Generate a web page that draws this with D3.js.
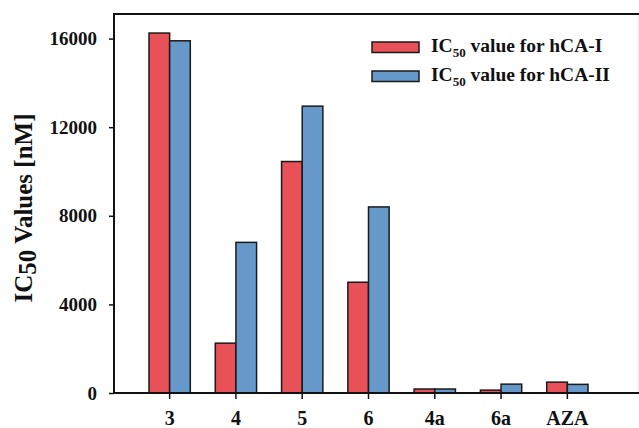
<!DOCTYPE html>
<html>
<head>
<meta charset="utf-8">
<script src="https://cdn.jsdelivr.net/npm/d3@7"></script>
<style>
    body { margin: 0; background: #fff; }
    text { font-family: "Liberation Serif", "Times New Roman", serif; font-weight: bold; fill: #111; }
</style>
</head>
<body>
<svg id="chart" width="639" height="428"></svg>
<script>
// compounds on the x axis
const categories = ["3", "4", "5", "6", "4a", "6a", "AZA"];
// IC50 (nM) for hCA-I and hCA-II
const hcaI = [16250, 2250, 10450, 5000, 180, 130, 490];
const hcaII = [15900, 6800, 12950, 8400, 180, 400, 390];
const yTicks = [0, 4000, 8000, 12000, 16000];
const seriesNames = ["hCA-I", "hCA-II"];
const colors = ["#e85157", "#6699c9"];

const svg = d3.select("#chart");
const margin = { left: 114, top: 14, right: 1, bottom: 35 };
const width = 639, height = 428;

const x = d3.scaleBand()
    .domain(categories)
    .range([149, 588])
    .paddingInner(0.377)
    .paddingOuter(0);

const y = d3.scaleLinear()
    .domain([0, 17110])
    .range([height - margin.bottom, margin.top]);

const xSub = d3.scaleBand()
    .domain([0, 1])
    .range([0, x.bandwidth()]);

// frame: faint right edge, then top
svg.append("line")
    .attr("x1", 638).attr("x2", 638)
    .attr("y1", margin.top).attr("y2", height - margin.bottom)
    .attr("stroke", "#e6e6e6").attr("stroke-width", 1);

svg.append("line")
    .attr("x1", margin.left).attr("x2", width)
    .attr("y1", margin.top).attr("y2", margin.top)
    .attr("stroke", "#111").attr("stroke-width", 2);

// bars
const series = [hcaI, hcaII];
series.forEach((vals, s) => {
    svg.append("g").selectAll("rect")
        .data(vals)
        .join("rect")
        .attr("x", (d, i) => x(categories[i]) + xSub(s))
        .attr("y", d => y(d))
        .attr("width", xSub.bandwidth())
        .attr("height", d => y(0) - y(d))
        .attr("fill", colors[s])
        .attr("stroke", "#1a1a1a")
        .attr("stroke-width", 1.5);
});

// y axis
const yAxis = svg.append("g")
    .attr("transform", `translate(${margin.left},0)`)
    .call(d3.axisLeft(y).tickValues(yTicks).tickFormat(d3.format("d"))
        .tickSize(5).tickSizeOuter(0).tickPadding(12));
yAxis.select(".domain").attr("stroke", "#111").attr("stroke-width", 2)
    .attr("d", `M0,${margin.top - 1}V${height - margin.bottom}`);
yAxis.selectAll(".tick line").attr("stroke", "#111").attr("stroke-width", 1.5);
yAxis.selectAll(".tick text").style("font-size", "19px")
    .style("font-family", "'Liberation Serif', serif").attr("fill", "#111");

// x axis
const xAxis = svg.append("g")
    .attr("transform", `translate(0,${height - margin.bottom})`)
    .call(d3.axisBottom(x).tickSize(6).tickSizeOuter(0).tickPadding(12));
xAxis.select(".domain").attr("stroke", "#111").attr("stroke-width", 2)
    .attr("d", `M${margin.left - 1},0H${width}`);
xAxis.selectAll(".tick line").attr("stroke", "#111").attr("stroke-width", 1.5);
xAxis.selectAll(".tick text").style("font-size", "20px")
    .style("font-family", "'Liberation Serif', serif").attr("fill", "#111");

// y axis title
const yTitle = svg.append("text")
    .attr("transform", `translate(32,208) rotate(-90)`)
    .attr("text-anchor", "middle")
    .style("font-size", "25px");
yTitle.append("tspan").text("IC");
yTitle.append("tspan").attr("dy", 4).text("50");
yTitle.append("tspan").attr("dy", -4).text(" Values [nM]");

// legend
const legend = svg.append("g").attr("transform", "translate(372,42)");
seriesNames.forEach((name, i) => {
    const row = legend.append("g").attr("transform", `translate(0,${i * 29})`);
    row.append("rect")
        .attr("width", 47).attr("height", 10.5)
        .attr("fill", colors[i])
        .attr("stroke", "#1a1a1a").attr("stroke-width", 1.5);
    const t = row.append("text")
        .attr("x", 59).attr("y", 10)
        .style("font-size", "19.5px");
    t.append("tspan").text("IC");
    t.append("tspan").attr("dy", 5).style("font-size", "13px").text("50");
    t.append("tspan").attr("dy", -5).text(` value for ${name}`);
});
</script>
</body>
</html>
